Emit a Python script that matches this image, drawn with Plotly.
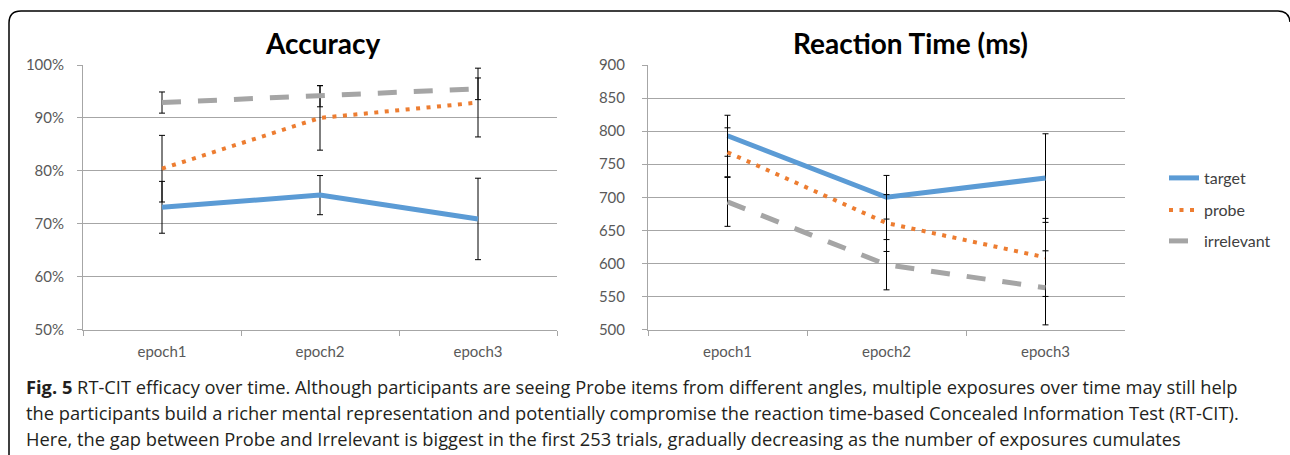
import plotly.graph_objects as go

W, H = 1290, 455

# ---------------- data ----------------
categories = ["epoch1", "epoch2", "epoch3"]
series_names = ["target", "probe", "irrelevant"]

acc_target = [73.1, 75.4, 70.9]
acc_target_err = [4.9, 3.7, 7.7]
acc_probe = [80.4, 90.0, 92.9]
acc_probe_err = [6.3, 6.1, 6.5]
acc_irrelevant = [92.9, 94.1, 95.5]
acc_irrelevant_err = [2.0, 2.0, 2.05]

rt_target = [793, 700, 729]
rt_target_err = [31, 33, 67]
rt_probe = [768, 661, 609]
rt_probe_err = [37, 43, 59]
rt_irrelevant = [693, 598, 563]
rt_irrelevant_err = [37, 38, 56]

acc_ticks = [50, 60, 70, 80, 90, 100]
acc_tick_labels = ["50%", "60%", "70%", "80%", "90%", "100%"]
rt_ticks = [500, 550, 600, 650, 700, 750, 800, 850, 900]

titles = ["Accuracy", "Reaction Time (ms)"]
caption_lines = [
    "<b>Fig. 5</b> RT-CIT efficacy over time. Although participants are seeing Probe items from different angles, multiple exposures over time may still help",
    "the participants build a richer mental representation and potentially compromise the reaction time-based Concealed Information Test (RT-CIT).",
    "Here, the gap between Probe and Irrelevant is biggest in the first 253 trials, gradually decreasing as the number of exposures cumulates",
]

# ---------------- styles ----------------
colors = ["#5B9BD5", "#ED7D31", "#A5A5A5"]
dashes = ["solid", "4px,6.5px", "19px,17px"]
widths = [5, 4, 5]
grid = "#A6A6A6"
tickc = "#595959"
FONT = "Lato"


def px_x(p):
    return p / W


def px_y(p):
    return 1 - p / H


fig = go.Figure()

acc_vals = [acc_target, acc_probe, acc_irrelevant]
acc_errs = [acc_target_err, acc_probe_err, acc_irrelevant_err]
rt_vals = [rt_target, rt_probe, rt_irrelevant]
rt_errs = [rt_target_err, rt_probe_err, rt_irrelevant_err]
legend_ids = ["legend", "legend2", "legend3"]

for i, name in enumerate(series_names):
    fig.add_trace(go.Scatter(
        x=categories, y=acc_vals[i], mode="lines", name=name,
        line=dict(color=colors[i], width=widths[i], dash=dashes[i]),
        error_y=dict(type="data", array=acc_errs[i], color="black", thickness=1, width=3),
        xaxis="x", yaxis="y", showlegend=False,
    ))

for i, name in enumerate(series_names):
    fig.add_trace(go.Scatter(
        x=categories, y=rt_vals[i], mode="lines", name=name,
        line=dict(color=colors[i], width=widths[i], dash=dashes[i]),
        error_y=dict(type="data", array=rt_errs[i], color="black", thickness=1, width=3),
        xaxis="x2", yaxis="y2", showlegend=True, legend=legend_ids[i],
    ))

ydom = [px_y(329.5), px_y(65)]
xcommon = dict(type="category", range=[-0.5, 2.5], tickson="boundaries",
               ticks="outside", ticklen=5, tickcolor=grid, showline=True,
               linecolor=grid, linewidth=1, showgrid=False, zeroline=False,
               automargin=False,
               tickfont=dict(family=FONT, size=15, color=tickc), ticklabelstandoff=8)
ycommon = dict(showgrid=True, gridcolor=grid, gridwidth=1, showline=True,
               linecolor=grid, linewidth=1, ticks="outside", ticklen=5,
               tickcolor=grid, zeroline=False, automargin=False,
               tickfont=dict(family=FONT, size=15, color=tickc))

legend_rows = [178, 210, 241]
legends = {}
for lid, ry in zip(legend_ids, legend_rows):
    legends[lid] = dict(x=px_x(1164), y=px_y(ry), xanchor="left", yanchor="middle",
                        font=dict(family=FONT, size=16, color="#404040"),
                        bgcolor="rgba(0,0,0,0)", borderwidth=0, tracegroupgap=0)

fig.update_layout(
    width=W, height=H,
    margin=dict(l=0, r=0, t=0, b=0, pad=0, autoexpand=False),
    paper_bgcolor="white", plot_bgcolor="white",
    xaxis=dict(domain=[px_x(83), px_x(557)], anchor="y", **xcommon),
    yaxis=dict(domain=ydom, anchor="x", range=[50, 100], tickvals=acc_ticks,
               ticktext=acc_tick_labels, ticklabelstandoff=10, **ycommon),
    xaxis2=dict(domain=[px_x(648), px_x(1125)], anchor="y2", **xcommon),
    yaxis2=dict(domain=ydom, anchor="x2", range=[500, 900], tickvals=rt_ticks,
                ticklabelstandoff=14, **ycommon),
    **legends,
)

# chart titles
for t, cx in zip(titles, [323, 910]):
    fig.add_annotation(text=f"<b>{t}</b>", x=px_x(cx), y=px_y(43), xref="paper", yref="paper",
                       xanchor="center", yanchor="middle", showarrow=False,
                       font=dict(family=FONT, size=28, color="black"))

# caption
for line, cy in zip(caption_lines, [386, 412, 438]):
    fig.add_annotation(text=line, x=px_x(24), y=px_y(cy), xref="paper", yref="paper",
                       xanchor="left", yanchor="middle", showarrow=False,
                       font=dict(family="Open Sans", size=18.3, color="#231F20"))

# outer frame
r = 12
path = (f"M {px_x(9)},{px_y(455)} L {px_x(9)},{px_y(11 + r)} "
        f"Q {px_x(9)},{px_y(11)} {px_x(9 + r)},{px_y(11)} "
        f"L {px_x(1278)},{px_y(11)} Q {px_x(1289)},{px_y(11)} {px_x(1290)},{px_y(22)}")
fig.add_shape(type="path", path=path, xref="paper", yref="paper",
              line=dict(color="black", width=1.5))

fig.write_html(
    "out.html",
    config={"displayModeBar": False},
    post_script="document.body.style.margin='0';document.body.style.overflow='hidden';",
)
